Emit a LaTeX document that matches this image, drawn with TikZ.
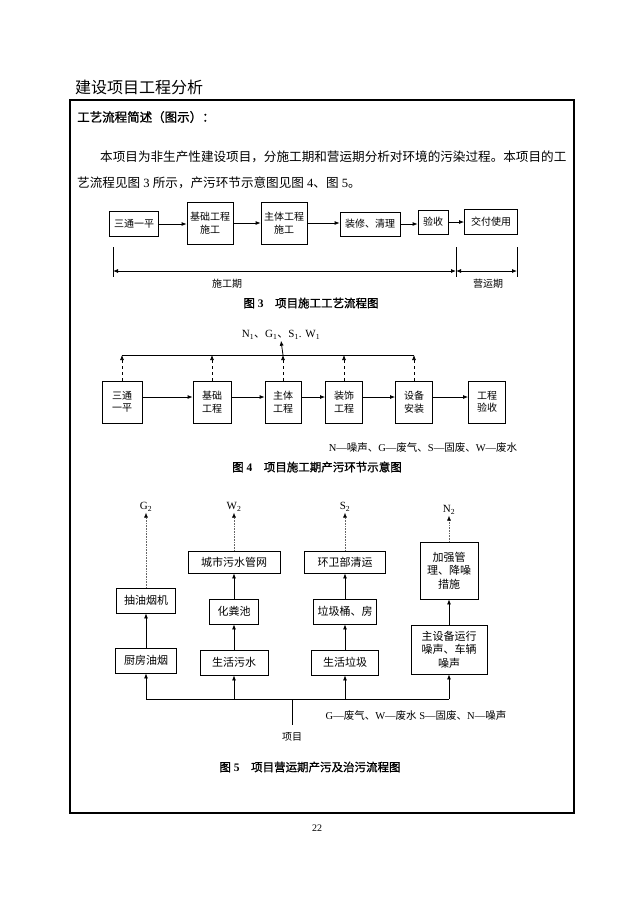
\documentclass[tikz,border=0pt]{standalone}
\usepackage{fontspec}
\setmainfont{Liberation Serif}
\newfontfamily\cjk{Noto Sans CJK SC}
\newfontfamily\cjkbf{Noto Sans CJK SC}[FakeBold=1.2]
\usetikzlibrary{arrows.meta, positioning}
\newcommand{\lat}[1]{{\rmfamily #1}}

\begin{document}
\begin{tikzpicture}[
  x=1pt, y=-1pt,
  every node/.style={font=\cjk\fontsize{10}{12.5}\selectfont, inner sep=1pt},
  box/.style={draw, line width=0.8pt, align=center, inner sep=1pt},
  big/.style={font=\cjk\fontsize{11}{13.5}\selectfont},
  arrow/.style={-{Latex[length=5pt, width=4pt]}, line width=0.8pt},
  span/.style={{Latex[length=5pt, width=4pt]}-{Latex[length=5pt, width=4pt]}, line width=0.8pt},
  emit/.style={dashed, -{Latex[length=5pt, width=4pt]}, line width=0.7pt},
  vent/.style={densely dotted, black!60, -{Latex[length=5pt, width=4pt, black]}, line width=0.6pt},
  caption/.style={font=\cjkbf\fontsize{11.5}{14}\selectfont},
  legend/.style={font=\cjk\fontsize{10.5}{13}\selectfont}
]
  \useasboundingbox (0,0) rectangle (635,898);

  % Page head
  \node[anchor=west, font=\cjk\fontsize{16}{19}\selectfont] (title) at (74,87) {建设项目工程分析};
  \draw[line width=1.6pt] (70,100) rectangle (574,813);
  \node[anchor=west, font=\cjkbf\fontsize{12.5}{15}\selectfont] (head) at (76,117) {工艺流程简述（图示）：};
  \node[anchor=west, font=\cjk\fontsize{12.6}{16}\selectfont] (par1) at (99,157) {本项目为非生产性建设项目，分施工期和营运期分析对环境的污染过程。本项目的工};
  \node[anchor=west, font=\cjk\fontsize{12.6}{16}\selectfont] (par2) at (76,183) {艺流程见图\lat{ 3 }所示，产污环节示意图见图\lat{ 4}、图\lat{ 5}。};

  % Fig. 3
  \node[box, minimum width=49pt, minimum height=25pt] (tt3) at (134,224) {三通一平};
  \node[box, minimum width=46pt, minimum height=42pt] (jc3) at (210,223) {基础工程\\施工};
  \node[box, minimum width=46pt, minimum height=42pt] (zt3) at (284,223) {主体工程\\施工};
  \node[box, minimum width=60pt, minimum height=24pt] (zx3) at (370,224) {装修、清理};
  \node[box, minimum width=30pt, minimum height=24pt] (ys3) at (433,222) {验收};
  \node[box, minimum width=53pt, minimum height=25pt] (jf3) at (491,222) {交付使用};

  \draw[arrow] (tt3.east) -- (tt3.east -| jc3.west);
  \draw[arrow] (jc3.east) -- (jc3.east -| zt3.west);
  \draw[arrow] (zt3.east) -- (zt3.east -| zx3.west);
  \draw[arrow] (zx3.east) -- (zx3.east -| ys3.west);
  \draw[arrow] (ys3.east) -- (ys3.east -| jf3.west);

  \coordinate (t1) at (113,247);
  \coordinate (t2) at (456,247);
  \coordinate (t3) at (517,247);
  \coordinate (b1) at (113,277);
  \coordinate (b2) at (456,277);
  \coordinate (b3) at (517,277);
  \draw[line width=0.8pt] (t1) -- (b1);
  \draw[line width=0.8pt] (t2) -- (b2);
  \draw[line width=0.8pt] (t3) -- (b3);
  \coordinate (p1) at (113,271);
  \coordinate (p2) at (456,271);
  \coordinate (p3) at (517,271);
  \draw[span] (p1) -- (p2);
  \draw[span] (p2) -- (p3);
  \node (sg) at (227,284) {施工期};
  \node (yy) at (488,284) {营运期};
  \node[caption] (cap3) at (311,303) {图\lat{\textbf{ 3}}\quad 项目施工工艺流程图};

  % Fig. 4
  \coordinate (bus4) at (0,355);
  \node[box, minimum width=40pt, minimum height=42pt] (a4) at (122,402) {三通\\一平};
  \node[box, minimum width=38pt, minimum height=42pt] (b4) at (212,402) {基础\\工程};
  \node[box, minimum width=36pt, minimum height=42pt] (c4) at (283,402) {主体\\工程};
  \node[box, minimum width=37pt, minimum height=42pt] (d4) at (344,402) {装饰\\工程};
  \node[box, minimum width=37pt, minimum height=42pt] (e4) at (414,402) {设备\\安装};
  \node[box, minimum width=37pt, minimum height=42pt] (f4) at (487,402) {工程\\验收};
  \node[big] (em4) at (281,335) {\lat{N\textsubscript{1}}、\lat{G\textsubscript{1}}、\lat{S\textsubscript{1}. W\textsubscript{1}}};

  \foreach \n in {a4, b4, c4, d4, e4}
    \draw[emit] (\n.north) -- (\n.north |- bus4);
  \draw[line width=0.8pt] (a4.north |- bus4) -- (e4.north |- bus4);
  \draw[arrow] (c4.north |- bus4) -- (em4.south);

  \draw[arrow] ([yshift=5pt]a4.east) -- ([yshift=5pt]b4.west);
  \draw[arrow] ([yshift=5pt]b4.east) -- ([yshift=5pt]c4.west);
  \draw[arrow] ([yshift=5pt]c4.east) -- ([yshift=5pt]d4.west);
  \draw[arrow] ([yshift=5pt]d4.east) -- ([yshift=5pt]e4.west);
  \draw[arrow] ([yshift=5pt]e4.east) -- ([yshift=5pt]f4.west);

  \node[legend] (key4) at (423,448) {\lat{N—}噪声、\lat{G—}废气、\lat{S—}固废、\lat{W—}废水};
  \node[caption] (cap4) at (317,467) {图\lat{\textbf{ 4}}\quad 项目施工期产污环节示意图};

  % Fig. 5
  \node[box, big, minimum width=61pt, minimum height=25pt] (cf5) at (146,660.5) {厨房油烟};
  \node[box, big, minimum width=59pt, minimum height=25pt] (cy5) at (146,600.5) {抽油烟机};
  \node[box, big, minimum width=68pt, minimum height=25pt] (sw5) at (234,662.5) {生活污水};
  \node[box, big, minimum width=49pt, minimum height=25pt] (hf5) at (234,611.5) {化粪池};
  \node[box, big, minimum width=92pt, minimum height=22pt] (gw5) at (234,562) {城市污水管网};
  \node[box, big, minimum width=67pt, minimum height=25pt] (lj5) at (345,662.5) {生活垃圾};
  \node[box, big, minimum width=63pt, minimum height=25pt] (lt5) at (345,611.5) {垃圾桶、房};
  \node[box, big, minimum width=81pt, minimum height=22pt] (hw5) at (345,562) {环卫部清运};
  \node[box, big, minimum width=76pt, minimum height=49pt] (zs5) at (449,649.5) {主设备运行\\噪声、车辆\\噪声};
  \node[box, big, minimum width=58pt, minimum height=57pt] (jq5) at (449,570.5) {加强管\\理、降噪\\措施};

  \node[big] (g5) at (146,507) {\lat{G\textsubscript{2}}};
  \node[big] (w5) at (234,507) {\lat{W\textsubscript{2}}};
  \node[big] (s5) at (345,507) {\lat{S\textsubscript{2}}};
  \node[big] (n5) at (449,510) {\lat{N\textsubscript{2}}};

  \draw[vent] (cy5.north) -- (g5.south);
  \draw[vent] (gw5.north) -- (w5.south);
  \draw[vent] (hw5.north) -- (s5.south);
  \draw[vent] (jq5.north) -- (n5.south);

  \draw[arrow] (cf5.north) -- (cy5.south);
  \draw[arrow] (sw5.north) -- (hf5.south);
  \draw[arrow] (hf5.north) -- (gw5.south);
  \draw[arrow] (lj5.north) -- (lt5.south);
  \draw[arrow] (lt5.north) -- (hw5.south);
  \draw[arrow] (zs5.north) -- (jq5.south);

  \coordinate (bus5) at (292,699);
  \coordinate (stem5) at (292,725);
  \draw[line width=0.8pt] (cf5.south |- bus5) -- (zs5.south |- bus5);
  \foreach \n in {cf5, sw5, lj5, zs5}
    \draw[arrow] (\n.south |- bus5) -- (\n.south);
  \draw[line width=0.8pt] (bus5) -- (stem5);
  \node (xm5) at (292,737) {项目};

  \node[legend] (key5) at (416,716) {\lat{G—}废气、\lat{W—}废水\lat{ S—}固废、\lat{N—}噪声};
  \node[caption] (cap5) at (310,767) {图\lat{\textbf{ 5}}\quad 项目营运期产污及治污流程图};

  % Page number
  \node[font=\rmfamily\fontsize{10}{12}\selectfont] (pg) at (317,828) {22};
\end{tikzpicture}
\end{document}
